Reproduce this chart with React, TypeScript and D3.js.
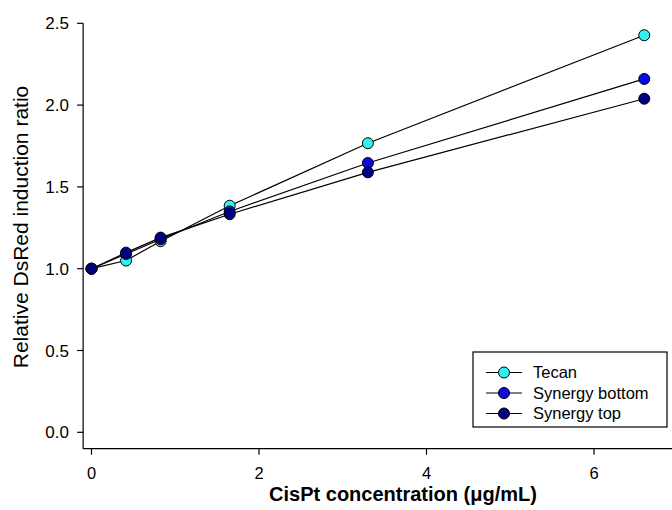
import React from "react";
import * as d3 from "d3";

const concentrations = [0, 0.4125, 0.825, 1.65, 3.3, 6.6];
const tecan = [1.0, 1.05, 1.168, 1.385, 1.767, 2.427];
const synergyBottom = [1.0, 1.09, 1.18, 1.35, 1.646, 2.16];
const synergyTop = [1.0, 1.098, 1.19, 1.333, 1.589, 2.039];
const seriesNames = ["Tecan", "Synergy bottom", "Synergy top"];
const seriesColors = ["#30F0F0", "#0a0ae8", "#000080"];
const xTicks = [0, 2, 4, 6];
const yTicks = [0, 0.5, 1.0, 1.5, 2.0, 2.5];

const W = 672;
const H = 510;
const FONT = "Liberation Sans, Arial, sans-serif";

export default function App() {
  const x = d3.scaleLinear().domain([0, 6]).range([91.5, 594]);
  const y = d3.scaleLinear().domain([0, 2.5]).range([432.3, 23.3]);
  const axisLeft = x(-0.1);
  const axisBottom = y(-0.1);
  const seriesData = [tecan, synergyBottom, synergyTop];
  const line = d3
    .line<number>()
    .x((_, i) => x(concentrations[i]))
    .y((d) => y(d));

  const legend = { x: 473, y: 352, w: 194, h: 75 };
  const rowY = [372.5, 393, 413.5];

  return (
    <svg width={W} height={H} style={{ position: "absolute", left: 0, top: 0, background: "#fff" }}>
      {/* axes */}
      <line x1={axisLeft} x2={axisLeft} y1={y(2.5)} y2={axisBottom} stroke="#000" strokeWidth={1.2} />
      <line x1={axisLeft} x2={W} y1={axisBottom} y2={axisBottom} stroke="#000" strokeWidth={1.2} />
      {yTicks.map((t) => (
        <g key={"y" + t}>
          <line x1={axisLeft - 6} x2={axisLeft} y1={y(t)} y2={y(t)} stroke="#000" strokeWidth={1.2} />
          <text x={69} y={y(t)} dy="0.36em" textAnchor="end" fontFamily={FONT} fontSize={17} fill="#000">
            {t.toFixed(1)}
          </text>
        </g>
      ))}
      {xTicks.map((t) => (
        <g key={"x" + t}>
          <line x1={x(t)} x2={x(t)} y1={axisBottom} y2={axisBottom + 6} stroke="#000" strokeWidth={1.2} />
          <text x={x(t)} y={478.5} textAnchor="middle" fontFamily={FONT} fontSize={16.5} fill="#000">
            {t}
          </text>
        </g>
      ))}
      <text x={403} y={501} textAnchor="middle" fontFamily={FONT} fontSize={20} fontWeight="bold" fill="#000">
        CisPt concentration (μg/mL)
      </text>
      <text
        transform={`translate(27.5,227) rotate(-90)`}
        textAnchor="middle"
        fontFamily={FONT}
        fontSize={21}
        fill="#000"
      >
        Relative DsRed induction ratio
      </text>

      {/* series */}
      {seriesData.map((vals, si) => (
        <path key={"l" + si} d={line(vals) || ""} fill="none" stroke="#000" strokeWidth={1.2} />
      ))}
      {seriesData.map((vals, si) => (
        <g key={"p" + si}>
          {vals.map((v, i) => (
            <circle
              key={i}
              cx={x(concentrations[i])}
              cy={y(v)}
              r={5.5}
              fill={seriesColors[si]}
              stroke="#000"
              strokeWidth={1}
            />
          ))}
        </g>
      ))}

      {/* legend */}
      <rect x={legend.x} y={legend.y} width={legend.w} height={legend.h} fill="#fff" stroke="#000" strokeWidth={1.2} />
      {seriesNames.map((name, i) => (
        <g key={name}>
          <line x1={486} x2={522} y1={rowY[i]} y2={rowY[i]} stroke="#000" strokeWidth={1.2} />
          <circle cx={504} cy={rowY[i]} r={5.5} fill={seriesColors[i]} stroke="#000" strokeWidth={1} />
          <text x={533} y={rowY[i]} dy="0.36em" fontFamily={FONT} fontSize={16.5} fill="#000">
            {name}
          </text>
        </g>
      ))}
    </svg>
  );
}
